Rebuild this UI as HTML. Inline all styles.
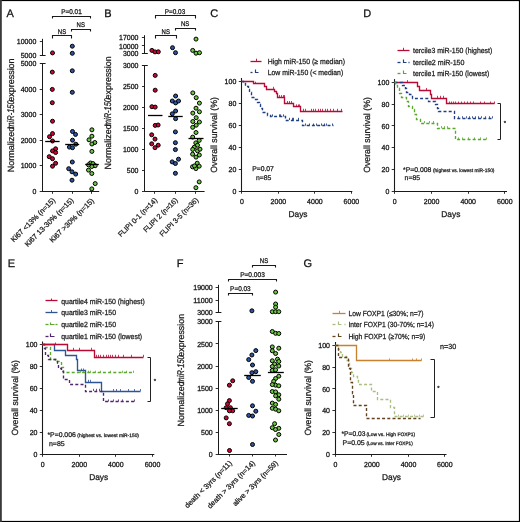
<!DOCTYPE html>
<html><head><meta charset="utf-8"><style>
html,body{margin:0;padding:0;background:#fff;}
svg{display:block;font-family:"Liberation Sans", sans-serif;will-change:transform;text-rendering:geometricPrecision;}
</style></head><body>
<svg width="520" height="522" viewBox="0 0 520 522" font-family='"Liberation Sans", sans-serif'>
<rect x="0" y="0" width="520" height="522" fill="#fff"/>
<text x="6.60" y="16.70" font-size="11" text-anchor="start" fill="#111" stroke="#111" stroke-width="0.26" >A</text>
<line x1="42.50" y1="38.80" x2="42.50" y2="55.40" stroke="#1a1a1a" stroke-width="1.0" />
<line x1="39.80" y1="55.50" x2="45.60" y2="55.50" stroke="#1a1a1a" stroke-width="1.0" />
<line x1="39.80" y1="41.50" x2="42.50" y2="41.50" stroke="#1a1a1a" stroke-width="0.9" />
<text x="36.30" y="44.01" font-size="7.35" text-anchor="end" fill="#111" textLength="19.46" lengthAdjust="spacingAndGlyphs" stroke="#111" stroke-width="0.26" >10000</text>
<text x="36.30" y="57.81" font-size="7.35" text-anchor="end" fill="#111" textLength="15.57" lengthAdjust="spacingAndGlyphs" stroke="#111" stroke-width="0.26" >5000</text>
<line x1="42.50" y1="63.80" x2="42.50" y2="191.20" stroke="#1a1a1a" stroke-width="1.0" />
<line x1="39.80" y1="63.50" x2="45.60" y2="63.50" stroke="#1a1a1a" stroke-width="1.0" />
<text x="36.30" y="66.41" font-size="7.35" text-anchor="end" fill="#111" textLength="15.57" lengthAdjust="spacingAndGlyphs" stroke="#111" stroke-width="0.26" >5000</text>
<line x1="39.70" y1="89.50" x2="42.50" y2="89.50" stroke="#1a1a1a" stroke-width="0.9" />
<text x="36.30" y="91.91" font-size="7.35" text-anchor="end" fill="#111" textLength="15.57" lengthAdjust="spacingAndGlyphs" stroke="#111" stroke-width="0.26" >4000</text>
<line x1="39.70" y1="114.50" x2="42.50" y2="114.50" stroke="#1a1a1a" stroke-width="0.9" />
<text x="36.30" y="117.31" font-size="7.35" text-anchor="end" fill="#111" textLength="15.57" lengthAdjust="spacingAndGlyphs" stroke="#111" stroke-width="0.26" >3000</text>
<line x1="39.70" y1="140.50" x2="42.50" y2="140.50" stroke="#1a1a1a" stroke-width="0.9" />
<text x="36.30" y="142.81" font-size="7.35" text-anchor="end" fill="#111" textLength="15.57" lengthAdjust="spacingAndGlyphs" stroke="#111" stroke-width="0.26" >2000</text>
<line x1="39.70" y1="165.50" x2="42.50" y2="165.50" stroke="#1a1a1a" stroke-width="0.9" />
<text x="36.30" y="168.31" font-size="7.35" text-anchor="end" fill="#111" textLength="15.57" lengthAdjust="spacingAndGlyphs" stroke="#111" stroke-width="0.26" >1000</text>
<line x1="39.70" y1="191.50" x2="42.50" y2="191.50" stroke="#1a1a1a" stroke-width="0.9" />
<text x="36.30" y="193.81" font-size="7.35" text-anchor="end" fill="#111" textLength="3.89" lengthAdjust="spacingAndGlyphs" stroke="#111" stroke-width="0.26" >0</text>
<line x1="42.00" y1="191.50" x2="99.20" y2="191.50" stroke="#1a1a1a" stroke-width="1.0" />
<line x1="52.50" y1="191.20" x2="52.50" y2="193.80" stroke="#1a1a1a" stroke-width="0.9" />
<line x1="72.50" y1="191.20" x2="72.50" y2="193.80" stroke="#1a1a1a" stroke-width="0.9" />
<line x1="91.50" y1="191.20" x2="91.50" y2="193.80" stroke="#1a1a1a" stroke-width="0.9" />
<text x="55.70" y="200.70" font-size="7.35" text-anchor="end" fill="#1a1a1a" stroke="#1a1a1a" stroke-width="0.26" transform="rotate(-45 55.70 200.70)" >Ki67 &lt;13% (n=15)</text>
<text x="74.10" y="200.80" font-size="7.35" text-anchor="end" fill="#1a1a1a" stroke="#1a1a1a" stroke-width="0.26" transform="rotate(-45 74.10 200.80)" >Ki67 13-30% (n=15)</text>
<text x="94.40" y="201.20" font-size="7.35" text-anchor="end" fill="#1a1a1a" stroke="#1a1a1a" stroke-width="0.26" transform="rotate(-45 94.40 201.20)" >Ki67 &gt;30% (n=15)</text>
<polyline points="52.50,18.50 52.50,16.50 90.50,16.50 90.50,18.50" fill="none" stroke="#1a1a1a" stroke-width="1.1" stroke-linejoin="miter" stroke-linecap="butt" />
<text x="71.50" y="14.01" font-size="6.8" text-anchor="middle" fill="#1a1a1a" textLength="20.40" lengthAdjust="spacingAndGlyphs" stroke="#1a1a1a" stroke-width="0.26" >P=0.01</text>
<polyline points="52.50,38.50 52.50,35.50 71.50,35.50 71.50,38.50" fill="none" stroke="#1a1a1a" stroke-width="1.1" stroke-linejoin="miter" stroke-linecap="butt" />
<text x="62.00" y="33.71" font-size="6.8" text-anchor="middle" fill="#1a1a1a" textLength="8.40" lengthAdjust="spacingAndGlyphs" stroke="#1a1a1a" stroke-width="0.26" >NS</text>
<polyline points="71.50,31.50 71.50,29.50 90.50,29.50 90.50,31.50" fill="none" stroke="#1a1a1a" stroke-width="1.1" stroke-linejoin="miter" stroke-linecap="butt" />
<text x="80.80" y="26.91" font-size="6.8" text-anchor="middle" fill="#1a1a1a" textLength="8.40" lengthAdjust="spacingAndGlyphs" stroke="#1a1a1a" stroke-width="0.26" >NS</text>
<circle cx="52.50" cy="52.90" r="2.0" fill="#cc0535" stroke="#000" stroke-width="1.0"/>
<circle cx="52.30" cy="72.10" r="2.0" fill="#cc0535" stroke="#000" stroke-width="1.0"/>
<circle cx="52.30" cy="89.40" r="2.0" fill="#cc0535" stroke="#000" stroke-width="1.0"/>
<circle cx="52.30" cy="102.70" r="2.0" fill="#cc0535" stroke="#000" stroke-width="1.0"/>
<circle cx="52.50" cy="121.20" r="2.0" fill="#cc0535" stroke="#000" stroke-width="1.0"/>
<circle cx="52.50" cy="133.60" r="2.0" fill="#cc0535" stroke="#000" stroke-width="1.0"/>
<circle cx="49.50" cy="136.70" r="2.0" fill="#cc0535" stroke="#000" stroke-width="1.0"/>
<circle cx="52.50" cy="141.00" r="2.0" fill="#cc0535" stroke="#000" stroke-width="1.0"/>
<circle cx="55.60" cy="148.80" r="2.0" fill="#cc0535" stroke="#000" stroke-width="1.0"/>
<circle cx="52.50" cy="150.90" r="2.0" fill="#cc0535" stroke="#000" stroke-width="1.0"/>
<circle cx="55.60" cy="152.50" r="2.0" fill="#cc0535" stroke="#000" stroke-width="1.0"/>
<circle cx="49.20" cy="156.70" r="2.0" fill="#cc0535" stroke="#000" stroke-width="1.0"/>
<circle cx="52.50" cy="158.70" r="2.0" fill="#cc0535" stroke="#000" stroke-width="1.0"/>
<circle cx="55.60" cy="163.30" r="2.0" fill="#cc0535" stroke="#000" stroke-width="1.0"/>
<circle cx="52.50" cy="166.20" r="2.0" fill="#cc0535" stroke="#000" stroke-width="1.0"/>
<circle cx="72.30" cy="46.20" r="2.0" fill="#2d549c" stroke="#000" stroke-width="1.0"/>
<circle cx="72.30" cy="53.30" r="2.0" fill="#2d549c" stroke="#000" stroke-width="1.0"/>
<circle cx="72.30" cy="70.80" r="2.0" fill="#2d549c" stroke="#000" stroke-width="1.0"/>
<circle cx="72.30" cy="92.30" r="2.0" fill="#2d549c" stroke="#000" stroke-width="1.0"/>
<circle cx="72.50" cy="131.50" r="2.0" fill="#2d549c" stroke="#000" stroke-width="1.0"/>
<circle cx="75.50" cy="134.40" r="2.0" fill="#2d549c" stroke="#000" stroke-width="1.0"/>
<circle cx="72.50" cy="140.20" r="2.0" fill="#2d549c" stroke="#000" stroke-width="1.0"/>
<circle cx="75.80" cy="144.20" r="2.0" fill="#2d549c" stroke="#000" stroke-width="1.0"/>
<circle cx="69.40" cy="147.10" r="2.0" fill="#2d549c" stroke="#000" stroke-width="1.0"/>
<circle cx="72.50" cy="147.70" r="2.0" fill="#2d549c" stroke="#000" stroke-width="1.0"/>
<circle cx="72.30" cy="162.00" r="2.0" fill="#2d549c" stroke="#000" stroke-width="1.0"/>
<circle cx="68.70" cy="168.70" r="2.0" fill="#2d549c" stroke="#000" stroke-width="1.0"/>
<circle cx="72.00" cy="171.80" r="2.0" fill="#2d549c" stroke="#000" stroke-width="1.0"/>
<circle cx="75.70" cy="174.10" r="2.0" fill="#2d549c" stroke="#000" stroke-width="1.0"/>
<circle cx="72.00" cy="180.20" r="2.0" fill="#2d549c" stroke="#000" stroke-width="1.0"/>
<circle cx="91.90" cy="129.80" r="2.0" fill="#6cc640" stroke="#000" stroke-width="1.0"/>
<circle cx="91.90" cy="136.20" r="2.0" fill="#6cc640" stroke="#000" stroke-width="1.0"/>
<circle cx="89.00" cy="139.80" r="2.0" fill="#6cc640" stroke="#000" stroke-width="1.0"/>
<circle cx="94.80" cy="142.50" r="2.0" fill="#6cc640" stroke="#000" stroke-width="1.0"/>
<circle cx="91.90" cy="144.00" r="2.0" fill="#6cc640" stroke="#000" stroke-width="1.0"/>
<circle cx="91.90" cy="151.40" r="2.0" fill="#6cc640" stroke="#000" stroke-width="1.0"/>
<circle cx="90.50" cy="163.00" r="2.0" fill="#6cc640" stroke="#000" stroke-width="1.0"/>
<circle cx="93.00" cy="163.60" r="2.0" fill="#6cc640" stroke="#000" stroke-width="1.0"/>
<circle cx="95.20" cy="165.70" r="2.0" fill="#6cc640" stroke="#000" stroke-width="1.0"/>
<circle cx="91.80" cy="166.50" r="2.0" fill="#6cc640" stroke="#000" stroke-width="1.0"/>
<circle cx="88.50" cy="164.80" r="2.0" fill="#6cc640" stroke="#000" stroke-width="1.0"/>
<circle cx="88.50" cy="170.10" r="2.0" fill="#6cc640" stroke="#000" stroke-width="1.0"/>
<circle cx="91.80" cy="173.50" r="2.0" fill="#6cc640" stroke="#000" stroke-width="1.0"/>
<circle cx="95.20" cy="183.60" r="2.0" fill="#6cc640" stroke="#000" stroke-width="1.0"/>
<circle cx="91.80" cy="188.90" r="2.0" fill="#6cc640" stroke="#000" stroke-width="1.0"/>
<line x1="45.20" y1="141.50" x2="59.60" y2="141.50" stroke="#000" stroke-width="1.3" />
<line x1="65.20" y1="144.50" x2="79.20" y2="144.50" stroke="#000" stroke-width="1.3" />
<line x1="85.20" y1="164.50" x2="98.80" y2="164.50" stroke="#000" stroke-width="1.3" />
<text x="104.20" y="16.90" font-size="11" text-anchor="start" fill="#111" stroke="#111" stroke-width="0.26" >B</text>
<line x1="144.50" y1="35.20" x2="144.50" y2="53.50" stroke="#1a1a1a" stroke-width="1.0" />
<line x1="141.90" y1="53.50" x2="147.80" y2="53.50" stroke="#1a1a1a" stroke-width="1.0" />
<line x1="141.90" y1="37.50" x2="144.80" y2="37.50" stroke="#1a1a1a" stroke-width="0.9" />
<text x="138.50" y="40.31" font-size="7.35" text-anchor="end" fill="#111" textLength="19.46" lengthAdjust="spacingAndGlyphs" stroke="#111" stroke-width="0.26" >17000</text>
<line x1="141.90" y1="45.50" x2="144.80" y2="45.50" stroke="#1a1a1a" stroke-width="0.9" />
<text x="138.50" y="48.51" font-size="7.35" text-anchor="end" fill="#111" textLength="19.46" lengthAdjust="spacingAndGlyphs" stroke="#111" stroke-width="0.26" >10000</text>
<text x="138.50" y="56.11" font-size="7.35" text-anchor="end" fill="#111" textLength="15.57" lengthAdjust="spacingAndGlyphs" stroke="#111" stroke-width="0.26" >3000</text>
<line x1="144.50" y1="65.50" x2="144.50" y2="191.20" stroke="#1a1a1a" stroke-width="1.0" />
<line x1="141.90" y1="65.50" x2="147.80" y2="65.50" stroke="#1a1a1a" stroke-width="1.0" />
<text x="138.50" y="68.11" font-size="7.35" text-anchor="end" fill="#111" textLength="15.57" lengthAdjust="spacingAndGlyphs" stroke="#111" stroke-width="0.26" >3000</text>
<line x1="142.00" y1="86.50" x2="144.80" y2="86.50" stroke="#1a1a1a" stroke-width="0.9" />
<text x="138.50" y="88.91" font-size="7.35" text-anchor="end" fill="#111" textLength="15.57" lengthAdjust="spacingAndGlyphs" stroke="#111" stroke-width="0.26" >2500</text>
<line x1="142.00" y1="107.50" x2="144.80" y2="107.50" stroke="#1a1a1a" stroke-width="0.9" />
<text x="138.50" y="109.91" font-size="7.35" text-anchor="end" fill="#111" textLength="15.57" lengthAdjust="spacingAndGlyphs" stroke="#111" stroke-width="0.26" >2000</text>
<line x1="142.00" y1="128.50" x2="144.80" y2="128.50" stroke="#1a1a1a" stroke-width="0.9" />
<text x="138.50" y="130.91" font-size="7.35" text-anchor="end" fill="#111" textLength="15.57" lengthAdjust="spacingAndGlyphs" stroke="#111" stroke-width="0.26" >1500</text>
<line x1="142.00" y1="149.50" x2="144.80" y2="149.50" stroke="#1a1a1a" stroke-width="0.9" />
<text x="138.50" y="152.01" font-size="7.35" text-anchor="end" fill="#111" textLength="15.57" lengthAdjust="spacingAndGlyphs" stroke="#111" stroke-width="0.26" >1000</text>
<line x1="142.00" y1="170.50" x2="144.80" y2="170.50" stroke="#1a1a1a" stroke-width="0.9" />
<text x="138.50" y="173.01" font-size="7.35" text-anchor="end" fill="#111" textLength="11.68" lengthAdjust="spacingAndGlyphs" stroke="#111" stroke-width="0.26" >500</text>
<line x1="142.00" y1="191.50" x2="144.80" y2="191.50" stroke="#1a1a1a" stroke-width="0.9" />
<text x="138.50" y="193.81" font-size="7.35" text-anchor="end" fill="#111" textLength="3.89" lengthAdjust="spacingAndGlyphs" stroke="#111" stroke-width="0.26" >0</text>
<line x1="144.30" y1="191.50" x2="204.60" y2="191.50" stroke="#1a1a1a" stroke-width="1.0" />
<line x1="154.50" y1="191.20" x2="154.50" y2="193.80" stroke="#1a1a1a" stroke-width="0.9" />
<line x1="175.50" y1="191.20" x2="175.50" y2="193.80" stroke="#1a1a1a" stroke-width="0.9" />
<line x1="195.50" y1="191.20" x2="195.50" y2="193.80" stroke="#1a1a1a" stroke-width="0.9" />
<text x="157.70" y="200.70" font-size="7.35" text-anchor="end" fill="#1a1a1a" textLength="51.80" lengthAdjust="spacingAndGlyphs" stroke="#1a1a1a" stroke-width="0.26" transform="rotate(-45 157.70 200.70)" >FLIPI 0-1 (n=14)</text>
<text x="178.30" y="200.70" font-size="7.35" text-anchor="end" fill="#1a1a1a" textLength="45.40" lengthAdjust="spacingAndGlyphs" stroke="#1a1a1a" stroke-width="0.26" transform="rotate(-45 178.30 200.70)" >FLIPI 2 (n=16)</text>
<text x="198.80" y="200.70" font-size="7.35" text-anchor="end" fill="#1a1a1a" textLength="51.30" lengthAdjust="spacingAndGlyphs" stroke="#1a1a1a" stroke-width="0.26" transform="rotate(-45 198.80 200.70)" >FLIPI 3-5 (n=36)</text>
<polyline points="155.50,18.50 155.50,15.50 195.50,15.50 195.50,18.50" fill="none" stroke="#1a1a1a" stroke-width="1.1" stroke-linejoin="miter" stroke-linecap="butt" />
<text x="175.00" y="14.01" font-size="6.8" text-anchor="middle" fill="#1a1a1a" textLength="20.60" lengthAdjust="spacingAndGlyphs" stroke="#1a1a1a" stroke-width="0.26" >P=0.03</text>
<polyline points="155.50,38.50 155.50,35.50 176.50,35.50 176.50,38.50" fill="none" stroke="#1a1a1a" stroke-width="1.1" stroke-linejoin="miter" stroke-linecap="butt" />
<text x="165.80" y="33.71" font-size="6.8" text-anchor="middle" fill="#1a1a1a" textLength="8.40" lengthAdjust="spacingAndGlyphs" stroke="#1a1a1a" stroke-width="0.26" >NS</text>
<polyline points="175.50,30.50 175.50,28.50 195.50,28.50 195.50,30.50" fill="none" stroke="#1a1a1a" stroke-width="1.1" stroke-linejoin="miter" stroke-linecap="butt" />
<text x="185.20" y="26.21" font-size="6.8" text-anchor="middle" fill="#1a1a1a" textLength="8.40" lengthAdjust="spacingAndGlyphs" stroke="#1a1a1a" stroke-width="0.26" >NS</text>
<circle cx="151.90" cy="50.40" r="2.0" fill="#cc0535" stroke="#000" stroke-width="1.0"/>
<circle cx="155.00" cy="51.90" r="2.0" fill="#cc0535" stroke="#000" stroke-width="1.0"/>
<circle cx="158.30" cy="51.80" r="2.0" fill="#cc0535" stroke="#000" stroke-width="1.0"/>
<circle cx="155.20" cy="75.40" r="2.0" fill="#cc0535" stroke="#000" stroke-width="1.0"/>
<circle cx="155.20" cy="90.20" r="2.0" fill="#cc0535" stroke="#000" stroke-width="1.0"/>
<circle cx="151.90" cy="106.70" r="2.0" fill="#cc0535" stroke="#000" stroke-width="1.0"/>
<circle cx="155.20" cy="107.10" r="2.0" fill="#cc0535" stroke="#000" stroke-width="1.0"/>
<circle cx="155.20" cy="125.40" r="2.0" fill="#cc0535" stroke="#000" stroke-width="1.0"/>
<circle cx="158.10" cy="125.00" r="2.0" fill="#cc0535" stroke="#000" stroke-width="1.0"/>
<circle cx="151.70" cy="134.80" r="2.0" fill="#cc0535" stroke="#000" stroke-width="1.0"/>
<circle cx="155.00" cy="139.10" r="2.0" fill="#cc0535" stroke="#000" stroke-width="1.0"/>
<circle cx="151.70" cy="143.80" r="2.0" fill="#cc0535" stroke="#000" stroke-width="1.0"/>
<circle cx="158.20" cy="145.20" r="2.0" fill="#cc0535" stroke="#000" stroke-width="1.0"/>
<circle cx="155.00" cy="147.70" r="2.0" fill="#cc0535" stroke="#000" stroke-width="1.0"/>
<circle cx="172.50" cy="47.70" r="2.0" fill="#2d549c" stroke="#000" stroke-width="1.0"/>
<circle cx="175.50" cy="52.70" r="2.0" fill="#2d549c" stroke="#000" stroke-width="1.0"/>
<circle cx="175.60" cy="96.00" r="2.0" fill="#2d549c" stroke="#000" stroke-width="1.0"/>
<circle cx="172.30" cy="101.00" r="2.0" fill="#2d549c" stroke="#000" stroke-width="1.0"/>
<circle cx="175.60" cy="102.90" r="2.0" fill="#2d549c" stroke="#000" stroke-width="1.0"/>
<circle cx="178.50" cy="101.00" r="2.0" fill="#2d549c" stroke="#000" stroke-width="1.0"/>
<circle cx="175.60" cy="111.00" r="2.0" fill="#2d549c" stroke="#000" stroke-width="1.0"/>
<circle cx="172.30" cy="113.80" r="2.0" fill="#2d549c" stroke="#000" stroke-width="1.0"/>
<circle cx="175.60" cy="118.70" r="2.0" fill="#2d549c" stroke="#000" stroke-width="1.0"/>
<circle cx="175.40" cy="131.90" r="2.0" fill="#2d549c" stroke="#000" stroke-width="1.0"/>
<circle cx="175.40" cy="142.70" r="2.0" fill="#2d549c" stroke="#000" stroke-width="1.0"/>
<circle cx="175.40" cy="149.60" r="2.0" fill="#2d549c" stroke="#000" stroke-width="1.0"/>
<circle cx="178.50" cy="159.20" r="2.0" fill="#2d549c" stroke="#000" stroke-width="1.0"/>
<circle cx="172.20" cy="161.90" r="2.0" fill="#2d549c" stroke="#000" stroke-width="1.0"/>
<circle cx="175.40" cy="163.50" r="2.0" fill="#2d549c" stroke="#000" stroke-width="1.0"/>
<circle cx="175.40" cy="173.30" r="2.0" fill="#2d549c" stroke="#000" stroke-width="1.0"/>
<circle cx="196.00" cy="39.10" r="2.0" fill="#6cc640" stroke="#000" stroke-width="1.0"/>
<circle cx="192.70" cy="50.40" r="2.0" fill="#6cc640" stroke="#000" stroke-width="1.0"/>
<circle cx="196.00" cy="53.20" r="2.0" fill="#6cc640" stroke="#000" stroke-width="1.0"/>
<circle cx="199.50" cy="52.70" r="2.0" fill="#6cc640" stroke="#000" stroke-width="1.0"/>
<circle cx="192.80" cy="92.90" r="2.0" fill="#6cc640" stroke="#000" stroke-width="1.0"/>
<circle cx="196.20" cy="97.70" r="2.0" fill="#6cc640" stroke="#000" stroke-width="1.0"/>
<circle cx="199.40" cy="103.10" r="2.0" fill="#6cc640" stroke="#000" stroke-width="1.0"/>
<circle cx="196.00" cy="108.20" r="2.0" fill="#6cc640" stroke="#000" stroke-width="1.0"/>
<circle cx="199.40" cy="111.80" r="2.0" fill="#6cc640" stroke="#000" stroke-width="1.0"/>
<circle cx="192.80" cy="113.10" r="2.0" fill="#6cc640" stroke="#000" stroke-width="1.0"/>
<circle cx="196.20" cy="117.70" r="2.0" fill="#6cc640" stroke="#000" stroke-width="1.0"/>
<circle cx="192.80" cy="121.50" r="2.0" fill="#6cc640" stroke="#000" stroke-width="1.0"/>
<circle cx="199.40" cy="122.00" r="2.0" fill="#6cc640" stroke="#000" stroke-width="1.0"/>
<circle cx="196.20" cy="125.20" r="2.0" fill="#6cc640" stroke="#000" stroke-width="1.0"/>
<circle cx="192.70" cy="127.30" r="2.0" fill="#6cc640" stroke="#000" stroke-width="1.0"/>
<circle cx="196.00" cy="132.50" r="2.0" fill="#6cc640" stroke="#000" stroke-width="1.0"/>
<circle cx="192.70" cy="137.10" r="2.0" fill="#6cc640" stroke="#000" stroke-width="1.0"/>
<circle cx="199.20" cy="140.40" r="2.0" fill="#6cc640" stroke="#000" stroke-width="1.0"/>
<circle cx="195.80" cy="142.90" r="2.0" fill="#6cc640" stroke="#000" stroke-width="1.0"/>
<circle cx="197.50" cy="145.20" r="2.0" fill="#6cc640" stroke="#000" stroke-width="1.0"/>
<circle cx="194.20" cy="147.30" r="2.0" fill="#6cc640" stroke="#000" stroke-width="1.0"/>
<circle cx="192.70" cy="149.40" r="2.0" fill="#6cc640" stroke="#000" stroke-width="1.0"/>
<circle cx="197.50" cy="150.80" r="2.0" fill="#6cc640" stroke="#000" stroke-width="1.0"/>
<circle cx="200.00" cy="149.20" r="2.0" fill="#6cc640" stroke="#000" stroke-width="1.0"/>
<circle cx="192.60" cy="154.20" r="2.0" fill="#6cc640" stroke="#000" stroke-width="1.0"/>
<circle cx="199.30" cy="155.00" r="2.0" fill="#6cc640" stroke="#000" stroke-width="1.0"/>
<circle cx="196.00" cy="157.10" r="2.0" fill="#6cc640" stroke="#000" stroke-width="1.0"/>
<circle cx="197.20" cy="163.20" r="2.0" fill="#6cc640" stroke="#000" stroke-width="1.0"/>
<circle cx="192.50" cy="166.80" r="2.0" fill="#6cc640" stroke="#000" stroke-width="1.0"/>
<circle cx="199.20" cy="166.20" r="2.0" fill="#6cc640" stroke="#000" stroke-width="1.0"/>
<circle cx="195.90" cy="168.60" r="2.0" fill="#6cc640" stroke="#000" stroke-width="1.0"/>
<circle cx="194.50" cy="165.90" r="2.0" fill="#6cc640" stroke="#000" stroke-width="1.0"/>
<circle cx="199.20" cy="181.90" r="2.0" fill="#6cc640" stroke="#000" stroke-width="1.0"/>
<circle cx="195.90" cy="187.70" r="2.0" fill="#6cc640" stroke="#000" stroke-width="1.0"/>
<line x1="148.00" y1="115.50" x2="162.50" y2="115.50" stroke="#000" stroke-width="1.3" />
<line x1="168.30" y1="116.50" x2="182.70" y2="116.50" stroke="#000" stroke-width="1.3" />
<line x1="188.50" y1="138.50" x2="203.50" y2="138.50" stroke="#000" stroke-width="1.3" />
<text x="14.20" y="172.20" font-size="9" text-anchor="start" fill="#1a1a1a" textLength="45.50" lengthAdjust="spacingAndGlyphs" stroke="#1a1a1a" stroke-width="0.26" transform="rotate(-90 14.20 172.20)" >Normalized</text>
<text x="14.20" y="128.70" font-size="9.7" text-anchor="start" fill="#1a1a1a" textLength="28.40" lengthAdjust="spacingAndGlyphs" font-style="italic" stroke="#1a1a1a" stroke-width="0.26" transform="rotate(-90 14.20 128.70)" >miR-150</text>
<text x="14.20" y="101.70" font-size="9" text-anchor="start" fill="#1a1a1a" textLength="43.30" lengthAdjust="spacingAndGlyphs" stroke="#1a1a1a" stroke-width="0.26" transform="rotate(-90 14.20 101.70)" >expression</text>
<text x="110.90" y="169.50" font-size="9" text-anchor="start" fill="#1a1a1a" textLength="45.26" lengthAdjust="spacingAndGlyphs" stroke="#1a1a1a" stroke-width="0.26" transform="rotate(-90 110.90 169.50)" >Normalized</text>
<text x="110.90" y="126.23" font-size="9.7" text-anchor="start" fill="#1a1a1a" textLength="28.25" lengthAdjust="spacingAndGlyphs" font-style="italic" stroke="#1a1a1a" stroke-width="0.26" transform="rotate(-90 110.90 126.23)" >miR-150</text>
<text x="110.90" y="99.37" font-size="9" text-anchor="start" fill="#1a1a1a" textLength="43.07" lengthAdjust="spacingAndGlyphs" stroke="#1a1a1a" stroke-width="0.26" transform="rotate(-90 110.90 99.37)" >expression</text>
<text x="184.10" y="426.40" font-size="9" text-anchor="start" fill="#1a1a1a" textLength="44.98" lengthAdjust="spacingAndGlyphs" stroke="#1a1a1a" stroke-width="0.26" transform="rotate(-90 184.10 426.40)" >Normalized</text>
<text x="184.10" y="383.40" font-size="9.7" text-anchor="start" fill="#1a1a1a" textLength="28.08" lengthAdjust="spacingAndGlyphs" font-style="italic" stroke="#1a1a1a" stroke-width="0.26" transform="rotate(-90 184.10 383.40)" >miR-150</text>
<text x="184.10" y="356.71" font-size="9" text-anchor="start" fill="#1a1a1a" textLength="42.81" lengthAdjust="spacingAndGlyphs" stroke="#1a1a1a" stroke-width="0.26" transform="rotate(-90 184.10 356.71)" >expression</text>
<text x="210.30" y="16.90" font-size="11" text-anchor="start" fill="#111" stroke="#111" stroke-width="0.26" >C</text>
<polyline points="250.50,61.50 261.50,61.50" fill="none" stroke="#b80a35" stroke-width="1.3" stroke-linejoin="miter" stroke-linecap="butt" />
<line x1="256.50" y1="58.70" x2="256.50" y2="61.10" stroke="#b80a35" stroke-width="0.9" />
<text x="267.70" y="63.74" font-size="7.45" text-anchor="start" fill="#222" textLength="77.30" lengthAdjust="spacingAndGlyphs" stroke="#222" stroke-width="0.26" >High miR-150 (≥ median)</text>
<polyline points="250.50,72.50 252.50,72.50" fill="none" stroke="#213f80" stroke-width="1.3" stroke-linejoin="miter" stroke-linecap="butt" />
<polyline points="255.50,69.50 255.50,72.50 258.50,72.50" fill="none" stroke="#213f80" stroke-width="1.1700000000000002" stroke-linejoin="miter" stroke-linecap="butt" />
<text x="267.70" y="75.24" font-size="7.45" text-anchor="start" fill="#222" textLength="75.50" lengthAdjust="spacingAndGlyphs" stroke="#222" stroke-width="0.26" >Low miR-150 (&lt; median)</text>
<line x1="241.50" y1="78.00" x2="241.50" y2="191.40" stroke="#1a1a1a" stroke-width="1.1" />
<line x1="238.80" y1="81.50" x2="241.80" y2="81.50" stroke="#1a1a1a" stroke-width="0.9" />
<text x="236.30" y="83.81" font-size="7.35" text-anchor="end" fill="#111" textLength="11.68" lengthAdjust="spacingAndGlyphs" stroke="#111" stroke-width="0.26" >100</text>
<line x1="238.80" y1="103.50" x2="241.80" y2="103.50" stroke="#1a1a1a" stroke-width="0.9" />
<text x="236.30" y="105.85" font-size="7.35" text-anchor="end" fill="#111" textLength="7.78" lengthAdjust="spacingAndGlyphs" stroke="#111" stroke-width="0.26" >80</text>
<line x1="238.80" y1="125.50" x2="241.80" y2="125.50" stroke="#1a1a1a" stroke-width="0.9" />
<text x="236.30" y="127.89" font-size="7.35" text-anchor="end" fill="#111" textLength="7.78" lengthAdjust="spacingAndGlyphs" stroke="#111" stroke-width="0.26" >60</text>
<line x1="238.80" y1="147.50" x2="241.80" y2="147.50" stroke="#1a1a1a" stroke-width="0.9" />
<text x="236.30" y="149.93" font-size="7.35" text-anchor="end" fill="#111" textLength="7.78" lengthAdjust="spacingAndGlyphs" stroke="#111" stroke-width="0.26" >40</text>
<line x1="238.80" y1="169.50" x2="241.80" y2="169.50" stroke="#1a1a1a" stroke-width="0.9" />
<text x="236.30" y="171.97" font-size="7.35" text-anchor="end" fill="#111" textLength="7.78" lengthAdjust="spacingAndGlyphs" stroke="#111" stroke-width="0.26" >20</text>
<line x1="238.80" y1="191.50" x2="241.80" y2="191.50" stroke="#1a1a1a" stroke-width="0.9" />
<text x="236.30" y="194.01" font-size="7.35" text-anchor="end" fill="#111" textLength="3.89" lengthAdjust="spacingAndGlyphs" stroke="#111" stroke-width="0.26" >0</text>
<line x1="241.30" y1="191.50" x2="352.30" y2="191.50" stroke="#1a1a1a" stroke-width="1.1" />
<line x1="241.50" y1="191.40" x2="241.50" y2="193.70" stroke="#1a1a1a" stroke-width="0.9" />
<text x="241.90" y="203.91" font-size="7.35" text-anchor="middle" fill="#111" textLength="3.89" lengthAdjust="spacingAndGlyphs" stroke="#111" stroke-width="0.26" >0</text>
<line x1="278.50" y1="191.40" x2="278.50" y2="193.70" stroke="#1a1a1a" stroke-width="0.9" />
<text x="278.40" y="203.91" font-size="7.35" text-anchor="middle" fill="#111" textLength="15.57" lengthAdjust="spacingAndGlyphs" stroke="#111" stroke-width="0.26" >2000</text>
<line x1="314.50" y1="191.40" x2="314.50" y2="193.70" stroke="#1a1a1a" stroke-width="0.9" />
<text x="314.90" y="203.91" font-size="7.35" text-anchor="middle" fill="#111" textLength="15.57" lengthAdjust="spacingAndGlyphs" stroke="#111" stroke-width="0.26" >4000</text>
<line x1="351.50" y1="191.40" x2="351.50" y2="193.70" stroke="#1a1a1a" stroke-width="0.9" />
<text x="351.40" y="203.91" font-size="7.35" text-anchor="middle" fill="#111" textLength="15.57" lengthAdjust="spacingAndGlyphs" stroke="#111" stroke-width="0.26" >6000</text>
<text x="298.00" y="216.90" font-size="8.4" text-anchor="middle" fill="#1a1a1a" stroke="#1a1a1a" stroke-width="0.26" >Days</text>
<text x="217.30" y="134.90" font-size="9" text-anchor="middle" fill="#1a1a1a" textLength="75.60" lengthAdjust="spacingAndGlyphs" stroke="#1a1a1a" stroke-width="0.26" transform="rotate(-90 217.30 134.90)" >Overall survival (%)</text>
<polyline points="241.50,81.50 253.50,81.50 253.50,83.50 264.50,83.50 264.50,86.50 266.50,86.50 266.50,89.50 274.50,89.50 274.50,91.50 276.50,91.50 276.50,93.50 277.50,93.50 277.50,97.50 284.50,97.50 284.50,103.50 293.50,103.50 293.50,106.50 300.50,106.50 300.50,111.50 342.50,111.50" fill="none" stroke="#b80a35" stroke-width="1.35" stroke-linejoin="miter" stroke-linecap="butt" />
<line x1="255.50" y1="81.70" x2="255.50" y2="83.90" stroke="#b80a35" stroke-width="0.8" />
<line x1="273.50" y1="86.80" x2="273.50" y2="89.00" stroke="#b80a35" stroke-width="0.8" />
<line x1="279.50" y1="95.10" x2="279.50" y2="97.30" stroke="#b80a35" stroke-width="0.8" />
<line x1="281.50" y1="95.10" x2="281.50" y2="97.30" stroke="#b80a35" stroke-width="0.8" />
<line x1="283.50" y1="95.10" x2="283.50" y2="97.30" stroke="#b80a35" stroke-width="0.8" />
<line x1="284.50" y1="95.10" x2="284.50" y2="97.30" stroke="#b80a35" stroke-width="0.8" />
<line x1="287.50" y1="101.00" x2="287.50" y2="103.20" stroke="#b80a35" stroke-width="0.8" />
<line x1="289.50" y1="101.00" x2="289.50" y2="103.20" stroke="#b80a35" stroke-width="0.8" />
<line x1="291.50" y1="101.00" x2="291.50" y2="103.20" stroke="#b80a35" stroke-width="0.8" />
<line x1="296.50" y1="104.40" x2="296.50" y2="106.60" stroke="#b80a35" stroke-width="0.8" />
<line x1="298.50" y1="104.40" x2="298.50" y2="106.60" stroke="#b80a35" stroke-width="0.8" />
<line x1="299.50" y1="104.40" x2="299.50" y2="106.60" stroke="#b80a35" stroke-width="0.8" />
<line x1="303.50" y1="108.80" x2="303.50" y2="111.00" stroke="#b80a35" stroke-width="0.8" />
<line x1="305.50" y1="108.80" x2="305.50" y2="111.00" stroke="#b80a35" stroke-width="0.8" />
<line x1="311.50" y1="108.80" x2="311.50" y2="111.00" stroke="#b80a35" stroke-width="0.8" />
<line x1="313.50" y1="108.80" x2="313.50" y2="111.00" stroke="#b80a35" stroke-width="0.8" />
<line x1="315.50" y1="108.80" x2="315.50" y2="111.00" stroke="#b80a35" stroke-width="0.8" />
<line x1="318.50" y1="108.80" x2="318.50" y2="111.00" stroke="#b80a35" stroke-width="0.8" />
<line x1="320.50" y1="108.80" x2="320.50" y2="111.00" stroke="#b80a35" stroke-width="0.8" />
<line x1="322.50" y1="108.80" x2="322.50" y2="111.00" stroke="#b80a35" stroke-width="0.8" />
<line x1="325.50" y1="108.80" x2="325.50" y2="111.00" stroke="#b80a35" stroke-width="0.8" />
<line x1="327.50" y1="108.80" x2="327.50" y2="111.00" stroke="#b80a35" stroke-width="0.8" />
<line x1="330.50" y1="108.80" x2="330.50" y2="111.00" stroke="#b80a35" stroke-width="0.8" />
<line x1="333.50" y1="108.80" x2="333.50" y2="111.00" stroke="#b80a35" stroke-width="0.8" />
<line x1="337.50" y1="108.80" x2="337.50" y2="111.00" stroke="#b80a35" stroke-width="0.8" />
<line x1="341.50" y1="108.80" x2="341.50" y2="111.00" stroke="#b80a35" stroke-width="0.8" />
<polyline points="241.50,81.50 243.50,81.50 243.50,83.50 245.50,83.50 245.50,86.50 248.50,86.50 248.50,89.50 249.50,89.50 249.50,92.50 251.50,92.50 251.50,97.50 255.50,97.50 255.50,99.50 257.50,99.50 257.50,102.50 259.50,102.50 259.50,104.50 260.50,104.50 260.50,108.50 262.50,108.50 262.50,112.50 267.50,112.50 267.50,115.50 270.50,115.50 270.50,116.50 285.50,116.50 285.50,120.50 302.50,120.50 302.50,125.50 333.50,125.50" fill="none" stroke="#213f80" stroke-width="1.35" stroke-dasharray="3,2.2" stroke-linejoin="miter" stroke-linecap="butt" />
<line x1="272.50" y1="114.40" x2="272.50" y2="116.60" stroke="#213f80" stroke-width="0.9" />
<line x1="279.50" y1="114.40" x2="279.50" y2="116.60" stroke="#213f80" stroke-width="0.9" />
<line x1="280.50" y1="114.40" x2="280.50" y2="116.60" stroke="#213f80" stroke-width="0.9" />
<line x1="283.50" y1="114.40" x2="283.50" y2="116.60" stroke="#213f80" stroke-width="0.9" />
<line x1="289.50" y1="117.80" x2="289.50" y2="120.00" stroke="#213f80" stroke-width="0.9" />
<line x1="292.50" y1="117.80" x2="292.50" y2="120.00" stroke="#213f80" stroke-width="0.9" />
<line x1="293.50" y1="117.80" x2="293.50" y2="120.00" stroke="#213f80" stroke-width="0.9" />
<line x1="298.50" y1="117.80" x2="298.50" y2="120.00" stroke="#213f80" stroke-width="0.9" />
<line x1="305.50" y1="123.50" x2="305.50" y2="125.70" stroke="#213f80" stroke-width="0.9" />
<line x1="309.50" y1="123.50" x2="309.50" y2="125.70" stroke="#213f80" stroke-width="0.9" />
<line x1="313.50" y1="123.50" x2="313.50" y2="125.70" stroke="#213f80" stroke-width="0.9" />
<line x1="316.50" y1="123.50" x2="316.50" y2="125.70" stroke="#213f80" stroke-width="0.9" />
<line x1="321.50" y1="123.50" x2="321.50" y2="125.70" stroke="#213f80" stroke-width="0.9" />
<line x1="324.50" y1="123.50" x2="324.50" y2="125.70" stroke="#213f80" stroke-width="0.9" />
<line x1="326.50" y1="123.50" x2="326.50" y2="125.70" stroke="#213f80" stroke-width="0.9" />
<line x1="332.50" y1="123.50" x2="332.50" y2="125.70" stroke="#213f80" stroke-width="0.9" />
<text x="263.00" y="171.01" font-size="6.8" text-anchor="middle" fill="#222" stroke="#222" stroke-width="0.26" >P=0.07</text>
<text x="263.70" y="179.91" font-size="6.8" text-anchor="middle" fill="#222" stroke="#222" stroke-width="0.26" >n=85</text>
<text x="363.20" y="16.90" font-size="11" text-anchor="start" fill="#111" stroke="#111" stroke-width="0.26" >D</text>
<polyline points="397.50,50.50 409.50,50.50" fill="none" stroke="#b80a35" stroke-width="1.3" stroke-linejoin="miter" stroke-linecap="butt" />
<line x1="403.50" y1="47.80" x2="403.50" y2="50.20" stroke="#b80a35" stroke-width="0.9" />
<text x="413.00" y="52.94" font-size="7.45" text-anchor="start" fill="#222" textLength="79.30" lengthAdjust="spacingAndGlyphs" stroke="#222" stroke-width="0.26" >tercile3 miR-150 (highest)</text>
<polyline points="397.50,62.50 400.50,62.50" fill="none" stroke="#213f80" stroke-width="1.3" stroke-linejoin="miter" stroke-linecap="butt" />
<polyline points="403.50,59.50 403.50,62.50 406.50,62.50" fill="none" stroke="#213f80" stroke-width="1.1700000000000002" stroke-linejoin="miter" stroke-linecap="butt" />
<polyline points="408.50,62.50 409.50,62.50" fill="none" stroke="#213f80" stroke-width="1.3" stroke-linejoin="miter" stroke-linecap="butt" />
<text x="413.00" y="64.64" font-size="7.45" text-anchor="start" fill="#222" textLength="51.50" lengthAdjust="spacingAndGlyphs" stroke="#222" stroke-width="0.26" >tercile2 miR-150</text>
<polyline points="397.50,73.50 400.50,73.50" fill="none" stroke="#5aa82e" stroke-width="1.3" stroke-linejoin="miter" stroke-linecap="butt" />
<polyline points="403.50,70.50 403.50,73.50 406.50,73.50" fill="none" stroke="#5aa82e" stroke-width="1.1700000000000002" stroke-linejoin="miter" stroke-linecap="butt" />
<text x="413.00" y="76.24" font-size="7.45" text-anchor="start" fill="#222" textLength="76.20" lengthAdjust="spacingAndGlyphs" stroke="#222" stroke-width="0.26" >tercile1 miR-150 (lowest)</text>
<line x1="394.50" y1="79.10" x2="394.50" y2="191.50" stroke="#1a1a1a" stroke-width="1.1" />
<line x1="391.70" y1="82.50" x2="394.70" y2="82.50" stroke="#1a1a1a" stroke-width="0.9" />
<text x="389.30" y="84.91" font-size="7.35" text-anchor="end" fill="#111" textLength="11.68" lengthAdjust="spacingAndGlyphs" stroke="#111" stroke-width="0.26" >100</text>
<line x1="391.70" y1="104.50" x2="394.70" y2="104.50" stroke="#1a1a1a" stroke-width="0.9" />
<text x="389.30" y="106.75" font-size="7.35" text-anchor="end" fill="#111" textLength="7.78" lengthAdjust="spacingAndGlyphs" stroke="#111" stroke-width="0.26" >80</text>
<line x1="391.70" y1="125.50" x2="394.70" y2="125.50" stroke="#1a1a1a" stroke-width="0.9" />
<text x="389.30" y="128.59" font-size="7.35" text-anchor="end" fill="#111" textLength="7.78" lengthAdjust="spacingAndGlyphs" stroke="#111" stroke-width="0.26" >60</text>
<line x1="391.70" y1="147.50" x2="394.70" y2="147.50" stroke="#1a1a1a" stroke-width="0.9" />
<text x="389.30" y="150.43" font-size="7.35" text-anchor="end" fill="#111" textLength="7.78" lengthAdjust="spacingAndGlyphs" stroke="#111" stroke-width="0.26" >40</text>
<line x1="391.70" y1="169.50" x2="394.70" y2="169.50" stroke="#1a1a1a" stroke-width="0.9" />
<text x="389.30" y="172.27" font-size="7.35" text-anchor="end" fill="#111" textLength="7.78" lengthAdjust="spacingAndGlyphs" stroke="#111" stroke-width="0.26" >20</text>
<line x1="391.70" y1="191.50" x2="394.70" y2="191.50" stroke="#1a1a1a" stroke-width="0.9" />
<text x="389.30" y="194.11" font-size="7.35" text-anchor="end" fill="#111" textLength="3.89" lengthAdjust="spacingAndGlyphs" stroke="#111" stroke-width="0.26" >0</text>
<line x1="394.20" y1="191.50" x2="507.00" y2="191.50" stroke="#1a1a1a" stroke-width="1.1" />
<line x1="394.50" y1="191.50" x2="394.50" y2="193.80" stroke="#1a1a1a" stroke-width="0.9" />
<text x="394.70" y="204.01" font-size="7.35" text-anchor="middle" fill="#111" textLength="3.89" lengthAdjust="spacingAndGlyphs" stroke="#111" stroke-width="0.26" >0</text>
<line x1="431.50" y1="191.50" x2="431.50" y2="193.80" stroke="#1a1a1a" stroke-width="0.9" />
<text x="431.60" y="204.01" font-size="7.35" text-anchor="middle" fill="#111" textLength="15.57" lengthAdjust="spacingAndGlyphs" stroke="#111" stroke-width="0.26" >2000</text>
<line x1="468.50" y1="191.50" x2="468.50" y2="193.80" stroke="#1a1a1a" stroke-width="0.9" />
<text x="468.20" y="204.01" font-size="7.35" text-anchor="middle" fill="#111" textLength="15.57" lengthAdjust="spacingAndGlyphs" stroke="#111" stroke-width="0.26" >4000</text>
<line x1="504.50" y1="191.50" x2="504.50" y2="193.80" stroke="#1a1a1a" stroke-width="0.9" />
<text x="504.80" y="204.01" font-size="7.35" text-anchor="middle" fill="#111" textLength="15.57" lengthAdjust="spacingAndGlyphs" stroke="#111" stroke-width="0.26" >6000</text>
<text x="450.80" y="216.90" font-size="8.4" text-anchor="middle" fill="#1a1a1a" stroke="#1a1a1a" stroke-width="0.26" >Days</text>
<text x="370.20" y="135.00" font-size="9" text-anchor="middle" fill="#1a1a1a" textLength="75.60" lengthAdjust="spacingAndGlyphs" stroke="#1a1a1a" stroke-width="0.26" transform="rotate(-90 370.20 135.00)" >Overall survival (%)</text>
<polyline points="394.50,82.50 417.50,82.50 417.50,86.50 419.50,86.50 419.50,90.50 430.50,90.50 430.50,94.50 431.50,94.50 431.50,98.50 446.50,98.50 446.50,103.50 494.50,103.50" fill="none" stroke="#b80a35" stroke-width="1.35" stroke-linejoin="miter" stroke-linecap="butt" />
<line x1="426.50" y1="88.00" x2="426.50" y2="90.20" stroke="#b80a35" stroke-width="0.8" />
<line x1="407.50" y1="80.10" x2="407.50" y2="82.30" stroke="#b80a35" stroke-width="0.8" />
<line x1="437.50" y1="95.80" x2="437.50" y2="98.00" stroke="#b80a35" stroke-width="0.8" />
<line x1="440.50" y1="95.80" x2="440.50" y2="98.00" stroke="#b80a35" stroke-width="0.8" />
<line x1="443.50" y1="95.80" x2="443.50" y2="98.00" stroke="#b80a35" stroke-width="0.8" />
<line x1="449.50" y1="101.50" x2="449.50" y2="103.70" stroke="#b80a35" stroke-width="0.8" />
<line x1="451.50" y1="101.50" x2="451.50" y2="103.70" stroke="#b80a35" stroke-width="0.8" />
<line x1="453.50" y1="101.50" x2="453.50" y2="103.70" stroke="#b80a35" stroke-width="0.8" />
<line x1="455.50" y1="101.50" x2="455.50" y2="103.70" stroke="#b80a35" stroke-width="0.8" />
<line x1="458.50" y1="101.50" x2="458.50" y2="103.70" stroke="#b80a35" stroke-width="0.8" />
<line x1="461.50" y1="101.50" x2="461.50" y2="103.70" stroke="#b80a35" stroke-width="0.8" />
<line x1="464.50" y1="101.50" x2="464.50" y2="103.70" stroke="#b80a35" stroke-width="0.8" />
<line x1="467.50" y1="101.50" x2="467.50" y2="103.70" stroke="#b80a35" stroke-width="0.8" />
<line x1="470.50" y1="101.50" x2="470.50" y2="103.70" stroke="#b80a35" stroke-width="0.8" />
<line x1="473.50" y1="101.50" x2="473.50" y2="103.70" stroke="#b80a35" stroke-width="0.8" />
<line x1="480.50" y1="101.50" x2="480.50" y2="103.70" stroke="#b80a35" stroke-width="0.8" />
<line x1="484.50" y1="101.50" x2="484.50" y2="103.70" stroke="#b80a35" stroke-width="0.8" />
<line x1="490.50" y1="101.50" x2="490.50" y2="103.70" stroke="#b80a35" stroke-width="0.8" />
<line x1="494.50" y1="101.50" x2="494.50" y2="103.70" stroke="#b80a35" stroke-width="0.8" />
<polyline points="394.50,82.50 402.50,82.50 402.50,85.50 405.50,85.50 405.50,88.50 406.50,88.50 406.50,92.50 409.50,92.50 409.50,94.50 412.50,94.50 412.50,98.50 428.50,98.50 428.50,101.50 435.50,101.50 435.50,104.50 437.50,104.50 437.50,108.50 438.50,108.50 438.50,111.50 454.50,111.50 454.50,118.50 492.50,118.50" fill="none" stroke="#213f80" stroke-width="1.35" stroke-dasharray="3,2.2" stroke-linejoin="miter" stroke-linecap="butt" />
<line x1="458.50" y1="116.20" x2="458.50" y2="118.40" stroke="#213f80" stroke-width="0.8" />
<line x1="462.50" y1="116.20" x2="462.50" y2="118.40" stroke="#213f80" stroke-width="0.8" />
<line x1="466.50" y1="116.20" x2="466.50" y2="118.40" stroke="#213f80" stroke-width="0.8" />
<line x1="469.50" y1="116.20" x2="469.50" y2="118.40" stroke="#213f80" stroke-width="0.8" />
<line x1="472.50" y1="116.20" x2="472.50" y2="118.40" stroke="#213f80" stroke-width="0.8" />
<line x1="475.50" y1="116.20" x2="475.50" y2="118.40" stroke="#213f80" stroke-width="0.8" />
<line x1="478.50" y1="116.20" x2="478.50" y2="118.40" stroke="#213f80" stroke-width="0.8" />
<line x1="481.50" y1="116.20" x2="481.50" y2="118.40" stroke="#213f80" stroke-width="0.8" />
<line x1="485.50" y1="116.20" x2="485.50" y2="118.40" stroke="#213f80" stroke-width="0.8" />
<line x1="489.50" y1="116.20" x2="489.50" y2="118.40" stroke="#213f80" stroke-width="0.8" />
<line x1="492.50" y1="116.20" x2="492.50" y2="118.40" stroke="#213f80" stroke-width="0.8" />
<polyline points="394.50,82.50 395.50,82.50 395.50,85.50 397.50,85.50 397.50,88.50 399.50,88.50 399.50,93.50 401.50,93.50 401.50,97.50 406.50,97.50 406.50,101.50 408.50,101.50 408.50,106.50 412.50,106.50 412.50,109.50 414.50,109.50 414.50,114.50 416.50,114.50 416.50,119.50 420.50,119.50 420.50,123.50 437.50,123.50 437.50,128.50 455.50,128.50 455.50,139.50 487.50,139.50" fill="none" stroke="#5aa82e" stroke-width="1.35" stroke-dasharray="3,2.2" stroke-linejoin="miter" stroke-linecap="butt" />
<line x1="424.50" y1="121.00" x2="424.50" y2="123.20" stroke="#5aa82e" stroke-width="0.8" />
<line x1="429.50" y1="121.00" x2="429.50" y2="123.20" stroke="#5aa82e" stroke-width="0.8" />
<line x1="433.50" y1="121.00" x2="433.50" y2="123.20" stroke="#5aa82e" stroke-width="0.8" />
<line x1="441.50" y1="126.10" x2="441.50" y2="128.30" stroke="#5aa82e" stroke-width="0.8" />
<line x1="444.50" y1="126.10" x2="444.50" y2="128.30" stroke="#5aa82e" stroke-width="0.8" />
<line x1="447.50" y1="126.10" x2="447.50" y2="128.30" stroke="#5aa82e" stroke-width="0.8" />
<line x1="458.50" y1="137.40" x2="458.50" y2="139.60" stroke="#5aa82e" stroke-width="0.8" />
<line x1="462.50" y1="137.40" x2="462.50" y2="139.60" stroke="#5aa82e" stroke-width="0.8" />
<line x1="468.50" y1="137.40" x2="468.50" y2="139.60" stroke="#5aa82e" stroke-width="0.8" />
<line x1="474.50" y1="137.40" x2="474.50" y2="139.60" stroke="#5aa82e" stroke-width="0.8" />
<line x1="480.50" y1="137.40" x2="480.50" y2="139.60" stroke="#5aa82e" stroke-width="0.8" />
<line x1="486.50" y1="137.40" x2="486.50" y2="139.60" stroke="#5aa82e" stroke-width="0.8" />
<polyline points="497.50,103.50 500.50,103.50 500.50,139.50 497.50,139.50" fill="none" stroke="#222" stroke-width="1.0" stroke-linejoin="miter" stroke-linecap="butt" />
<text x="504.80" y="124.73" font-size="6" text-anchor="middle" fill="#222" stroke="#222" stroke-width="0.26" >*</text>
<text x="403.00" y="171.65" font-size="6.9" text-anchor="start" fill="#222" textLength="28.40" lengthAdjust="spacingAndGlyphs" stroke="#222" stroke-width="0.26" >*P=0.008</text>
<text x="433.00" y="171.74" font-size="4.9" text-anchor="start" fill="#222" textLength="61.50" lengthAdjust="spacingAndGlyphs" stroke="#222" stroke-width="0.26" >(highest vs. lowest miR-150)</text>
<text x="404.60" y="180.25" font-size="6.9" text-anchor="start" fill="#222" textLength="15.40" lengthAdjust="spacingAndGlyphs" stroke="#222" stroke-width="0.26" >n=85</text>
<text x="7.70" y="267.40" font-size="11" text-anchor="start" fill="#111" stroke="#111" stroke-width="0.26" >E</text>
<polyline points="45.50,300.50 57.50,300.50" fill="none" stroke="#b80a35" stroke-width="1.3" stroke-linejoin="miter" stroke-linecap="butt" />
<line x1="51.50" y1="298.50" x2="51.50" y2="300.90" stroke="#b80a35" stroke-width="0.9" />
<text x="61.20" y="303.54" font-size="7.45" text-anchor="start" fill="#222" textLength="83.60" lengthAdjust="spacingAndGlyphs" stroke="#222" stroke-width="0.26" >quartile4 miR-150 (highest)</text>
<polyline points="45.50,312.50 57.50,312.50" fill="none" stroke="#2d5596" stroke-width="1.3" stroke-linejoin="miter" stroke-linecap="butt" />
<line x1="51.50" y1="310.10" x2="51.50" y2="312.50" stroke="#2d5596" stroke-width="0.9" />
<text x="61.20" y="315.14" font-size="7.45" text-anchor="start" fill="#222" textLength="54.80" lengthAdjust="spacingAndGlyphs" stroke="#222" stroke-width="0.26" >quartile3 miR-150</text>
<polyline points="45.50,324.50 48.50,324.50" fill="none" stroke="#5aa82e" stroke-width="1.3" stroke-linejoin="miter" stroke-linecap="butt" />
<polyline points="50.50,322.50 50.50,324.50 54.50,324.50" fill="none" stroke="#5aa82e" stroke-width="1.1700000000000002" stroke-linejoin="miter" stroke-linecap="butt" />
<polyline points="55.50,324.50 57.50,324.50" fill="none" stroke="#5aa82e" stroke-width="1.3" stroke-linejoin="miter" stroke-linecap="butt" />
<text x="61.20" y="327.44" font-size="7.45" text-anchor="start" fill="#222" textLength="54.80" lengthAdjust="spacingAndGlyphs" stroke="#222" stroke-width="0.26" >quartile2 miR-150</text>
<polyline points="45.50,336.50 48.50,336.50" fill="none" stroke="#52246d" stroke-width="1.3" stroke-linejoin="miter" stroke-linecap="butt" />
<polyline points="50.50,333.50 50.50,336.50 54.50,336.50" fill="none" stroke="#52246d" stroke-width="1.1700000000000002" stroke-linejoin="miter" stroke-linecap="butt" />
<text x="61.20" y="338.94" font-size="7.45" text-anchor="start" fill="#222" textLength="81.00" lengthAdjust="spacingAndGlyphs" stroke="#222" stroke-width="0.26" >quartile1 miR-150 (lowest)</text>
<line x1="42.50" y1="341.50" x2="42.50" y2="454.50" stroke="#1a1a1a" stroke-width="1.1" />
<line x1="39.80" y1="344.50" x2="42.80" y2="344.50" stroke="#1a1a1a" stroke-width="0.9" />
<text x="37.50" y="347.31" font-size="7.35" text-anchor="end" fill="#111" textLength="11.68" lengthAdjust="spacingAndGlyphs" stroke="#111" stroke-width="0.26" >100</text>
<line x1="39.80" y1="366.50" x2="42.80" y2="366.50" stroke="#1a1a1a" stroke-width="0.9" />
<text x="37.50" y="369.27" font-size="7.35" text-anchor="end" fill="#111" textLength="7.78" lengthAdjust="spacingAndGlyphs" stroke="#111" stroke-width="0.26" >80</text>
<line x1="39.80" y1="388.50" x2="42.80" y2="388.50" stroke="#1a1a1a" stroke-width="0.9" />
<text x="37.50" y="391.23" font-size="7.35" text-anchor="end" fill="#111" textLength="7.78" lengthAdjust="spacingAndGlyphs" stroke="#111" stroke-width="0.26" >60</text>
<line x1="39.80" y1="410.50" x2="42.80" y2="410.50" stroke="#1a1a1a" stroke-width="0.9" />
<text x="37.50" y="413.19" font-size="7.35" text-anchor="end" fill="#111" textLength="7.78" lengthAdjust="spacingAndGlyphs" stroke="#111" stroke-width="0.26" >40</text>
<line x1="39.80" y1="432.50" x2="42.80" y2="432.50" stroke="#1a1a1a" stroke-width="0.9" />
<text x="37.50" y="435.15" font-size="7.35" text-anchor="end" fill="#111" textLength="7.78" lengthAdjust="spacingAndGlyphs" stroke="#111" stroke-width="0.26" >20</text>
<line x1="39.80" y1="454.50" x2="42.80" y2="454.50" stroke="#1a1a1a" stroke-width="0.9" />
<text x="37.50" y="457.11" font-size="7.35" text-anchor="end" fill="#111" textLength="3.89" lengthAdjust="spacingAndGlyphs" stroke="#111" stroke-width="0.26" >0</text>
<line x1="42.30" y1="454.50" x2="154.30" y2="454.50" stroke="#1a1a1a" stroke-width="1.1" />
<line x1="42.50" y1="454.50" x2="42.50" y2="456.80" stroke="#1a1a1a" stroke-width="0.9" />
<text x="42.80" y="467.01" font-size="7.35" text-anchor="middle" fill="#111" textLength="3.89" lengthAdjust="spacingAndGlyphs" stroke="#111" stroke-width="0.26" >0</text>
<line x1="79.50" y1="454.50" x2="79.50" y2="456.80" stroke="#1a1a1a" stroke-width="0.9" />
<text x="79.30" y="467.01" font-size="7.35" text-anchor="middle" fill="#111" textLength="15.57" lengthAdjust="spacingAndGlyphs" stroke="#111" stroke-width="0.26" >2000</text>
<line x1="115.50" y1="454.50" x2="115.50" y2="456.80" stroke="#1a1a1a" stroke-width="0.9" />
<text x="115.80" y="467.01" font-size="7.35" text-anchor="middle" fill="#111" textLength="15.57" lengthAdjust="spacingAndGlyphs" stroke="#111" stroke-width="0.26" >4000</text>
<line x1="152.50" y1="454.50" x2="152.50" y2="456.80" stroke="#1a1a1a" stroke-width="0.9" />
<text x="152.50" y="467.01" font-size="7.35" text-anchor="middle" fill="#111" textLength="15.57" lengthAdjust="spacingAndGlyphs" stroke="#111" stroke-width="0.26" >6000</text>
<text x="98.70" y="480.00" font-size="8.4" text-anchor="middle" fill="#1a1a1a" stroke="#1a1a1a" stroke-width="0.26" >Days</text>
<text x="17.90" y="397.80" font-size="9" text-anchor="middle" fill="#1a1a1a" textLength="75.60" lengthAdjust="spacingAndGlyphs" stroke="#1a1a1a" stroke-width="0.26" transform="rotate(-90 17.90 397.80)" >Overall survival (%)</text>
<polyline points="42.50,344.50 54.50,344.50 54.50,350.50 65.50,350.50 65.50,355.50 76.50,355.50 76.50,359.50 77.50,359.50 77.50,370.50 85.50,370.50 85.50,382.50 101.50,382.50 101.50,391.50 140.50,391.50" fill="none" stroke="#2d5596" stroke-width="1.35" stroke-linejoin="miter" stroke-linecap="butt" />
<line x1="81.50" y1="368.50" x2="81.50" y2="370.70" stroke="#2d5596" stroke-width="0.8" />
<line x1="83.50" y1="368.50" x2="83.50" y2="370.70" stroke="#2d5596" stroke-width="0.8" />
<line x1="88.50" y1="379.80" x2="88.50" y2="382.00" stroke="#2d5596" stroke-width="0.8" />
<line x1="90.50" y1="379.80" x2="90.50" y2="382.00" stroke="#2d5596" stroke-width="0.8" />
<line x1="113.50" y1="389.00" x2="113.50" y2="391.20" stroke="#2d5596" stroke-width="0.8" />
<line x1="116.50" y1="389.00" x2="116.50" y2="391.20" stroke="#2d5596" stroke-width="0.8" />
<line x1="120.50" y1="389.00" x2="120.50" y2="391.20" stroke="#2d5596" stroke-width="0.8" />
<line x1="128.50" y1="389.00" x2="128.50" y2="391.20" stroke="#2d5596" stroke-width="0.8" />
<line x1="134.50" y1="389.00" x2="134.50" y2="391.20" stroke="#2d5596" stroke-width="0.8" />
<line x1="140.50" y1="389.00" x2="140.50" y2="391.20" stroke="#2d5596" stroke-width="0.8" />
<polyline points="42.50,344.50 45.50,344.50 45.50,347.50 50.50,347.50 50.50,359.50 57.50,359.50 57.50,361.50 61.50,361.50 61.50,367.50 63.50,367.50 63.50,372.50 133.50,372.50" fill="none" stroke="#5aa82e" stroke-width="1.35" stroke-dasharray="3,2.2" stroke-linejoin="miter" stroke-linecap="butt" />
<line x1="80.50" y1="370.70" x2="80.50" y2="372.90" stroke="#5aa82e" stroke-width="0.8" />
<line x1="83.50" y1="370.70" x2="83.50" y2="372.90" stroke="#5aa82e" stroke-width="0.8" />
<line x1="88.50" y1="370.70" x2="88.50" y2="372.90" stroke="#5aa82e" stroke-width="0.8" />
<line x1="90.50" y1="370.70" x2="90.50" y2="372.90" stroke="#5aa82e" stroke-width="0.8" />
<line x1="95.50" y1="370.70" x2="95.50" y2="372.90" stroke="#5aa82e" stroke-width="0.8" />
<line x1="100.50" y1="370.70" x2="100.50" y2="372.90" stroke="#5aa82e" stroke-width="0.8" />
<line x1="110.50" y1="370.70" x2="110.50" y2="372.90" stroke="#5aa82e" stroke-width="0.8" />
<line x1="122.50" y1="370.70" x2="122.50" y2="372.90" stroke="#5aa82e" stroke-width="0.8" />
<line x1="126.50" y1="370.70" x2="126.50" y2="372.90" stroke="#5aa82e" stroke-width="0.8" />
<line x1="133.50" y1="370.70" x2="133.50" y2="372.90" stroke="#5aa82e" stroke-width="0.8" />
<polyline points="42.50,344.50 44.50,344.50 44.50,348.50 45.50,348.50 45.50,355.50 48.50,355.50 48.50,359.50 55.50,359.50 55.50,361.50 57.50,361.50 57.50,364.50 58.50,364.50 58.50,368.50 61.50,368.50 61.50,371.50 63.50,371.50 63.50,379.50 69.50,379.50 69.50,384.50 85.50,384.50 85.50,391.50 103.50,391.50 103.50,401.50 134.50,401.50" fill="none" stroke="#52246d" stroke-width="1.35" stroke-dasharray="3,2.2" stroke-linejoin="miter" stroke-linecap="butt" />
<line x1="93.50" y1="388.80" x2="93.50" y2="391.00" stroke="#52246d" stroke-width="0.8" />
<line x1="96.50" y1="388.80" x2="96.50" y2="391.00" stroke="#52246d" stroke-width="0.8" />
<line x1="99.50" y1="388.80" x2="99.50" y2="391.00" stroke="#52246d" stroke-width="0.8" />
<line x1="108.50" y1="399.40" x2="108.50" y2="401.60" stroke="#52246d" stroke-width="0.8" />
<line x1="113.50" y1="399.40" x2="113.50" y2="401.60" stroke="#52246d" stroke-width="0.8" />
<line x1="118.50" y1="399.40" x2="118.50" y2="401.60" stroke="#52246d" stroke-width="0.8" />
<line x1="122.50" y1="399.40" x2="122.50" y2="401.60" stroke="#52246d" stroke-width="0.8" />
<line x1="134.50" y1="399.40" x2="134.50" y2="401.60" stroke="#52246d" stroke-width="0.8" />
<polyline points="42.50,344.50 67.50,344.50 67.50,350.50 94.50,350.50 94.50,357.50 143.50,357.50" fill="none" stroke="#b80a35" stroke-width="1.35" stroke-linejoin="miter" stroke-linecap="butt" />
<line x1="55.50" y1="342.50" x2="55.50" y2="344.70" stroke="#b80a35" stroke-width="0.8" />
<line x1="73.50" y1="347.80" x2="73.50" y2="350.00" stroke="#b80a35" stroke-width="0.8" />
<line x1="79.50" y1="347.80" x2="79.50" y2="350.00" stroke="#b80a35" stroke-width="0.8" />
<line x1="91.50" y1="347.80" x2="91.50" y2="350.00" stroke="#b80a35" stroke-width="0.8" />
<line x1="96.50" y1="354.80" x2="96.50" y2="357.00" stroke="#b80a35" stroke-width="0.8" />
<line x1="98.50" y1="354.80" x2="98.50" y2="357.00" stroke="#b80a35" stroke-width="0.8" />
<line x1="100.50" y1="354.80" x2="100.50" y2="357.00" stroke="#b80a35" stroke-width="0.8" />
<line x1="103.50" y1="354.80" x2="103.50" y2="357.00" stroke="#b80a35" stroke-width="0.8" />
<line x1="106.50" y1="354.80" x2="106.50" y2="357.00" stroke="#b80a35" stroke-width="0.8" />
<line x1="108.50" y1="354.80" x2="108.50" y2="357.00" stroke="#b80a35" stroke-width="0.8" />
<line x1="110.50" y1="354.80" x2="110.50" y2="357.00" stroke="#b80a35" stroke-width="0.8" />
<line x1="112.50" y1="354.80" x2="112.50" y2="357.00" stroke="#b80a35" stroke-width="0.8" />
<line x1="115.50" y1="354.80" x2="115.50" y2="357.00" stroke="#b80a35" stroke-width="0.8" />
<line x1="118.50" y1="354.80" x2="118.50" y2="357.00" stroke="#b80a35" stroke-width="0.8" />
<line x1="123.50" y1="354.80" x2="123.50" y2="357.00" stroke="#b80a35" stroke-width="0.8" />
<line x1="131.50" y1="354.80" x2="131.50" y2="357.00" stroke="#b80a35" stroke-width="0.8" />
<line x1="143.50" y1="354.80" x2="143.50" y2="357.00" stroke="#b80a35" stroke-width="0.8" />
<polyline points="147.50,357.50 150.50,357.50 150.50,401.50 147.50,401.50" fill="none" stroke="#222" stroke-width="1.0" stroke-linejoin="miter" stroke-linecap="butt" />
<text x="154.80" y="382.73" font-size="6" text-anchor="middle" fill="#222" stroke="#222" stroke-width="0.26" >*</text>
<text x="47.40" y="437.35" font-size="6.9" text-anchor="start" fill="#222" textLength="28.40" lengthAdjust="spacingAndGlyphs" stroke="#222" stroke-width="0.26" >*P=0.006</text>
<text x="77.30" y="437.34" font-size="4.9" text-anchor="start" fill="#222" textLength="61.70" lengthAdjust="spacingAndGlyphs" stroke="#222" stroke-width="0.26" >(highest vs. lowest miR-150)</text>
<text x="49.00" y="446.15" font-size="6.9" text-anchor="start" fill="#222" textLength="15.70" lengthAdjust="spacingAndGlyphs" stroke="#222" stroke-width="0.26" >n=85</text>
<text x="176.70" y="267.40" font-size="11" text-anchor="start" fill="#111" stroke="#111" stroke-width="0.26" >F</text>
<line x1="218.50" y1="284.80" x2="218.50" y2="312.10" stroke="#1a1a1a" stroke-width="1.0" />
<line x1="215.60" y1="312.50" x2="221.40" y2="312.50" stroke="#1a1a1a" stroke-width="1.0" />
<line x1="215.60" y1="287.50" x2="218.50" y2="287.50" stroke="#1a1a1a" stroke-width="0.9" />
<text x="212.70" y="289.91" font-size="7.35" text-anchor="end" fill="#111" textLength="19.46" lengthAdjust="spacingAndGlyphs" stroke="#111" stroke-width="0.26" >19000</text>
<line x1="215.60" y1="300.50" x2="218.50" y2="300.50" stroke="#1a1a1a" stroke-width="0.9" />
<text x="212.70" y="302.81" font-size="7.35" text-anchor="end" fill="#111" textLength="19.46" lengthAdjust="spacingAndGlyphs" stroke="#111" stroke-width="0.26" >11000</text>
<text x="212.70" y="314.71" font-size="7.35" text-anchor="end" fill="#111" textLength="15.57" lengthAdjust="spacingAndGlyphs" stroke="#111" stroke-width="0.26" >3000</text>
<line x1="218.50" y1="321.30" x2="218.50" y2="454.20" stroke="#1a1a1a" stroke-width="1.0" />
<line x1="215.60" y1="321.50" x2="221.40" y2="321.50" stroke="#1a1a1a" stroke-width="1.0" />
<text x="212.70" y="323.91" font-size="7.35" text-anchor="end" fill="#111" textLength="15.57" lengthAdjust="spacingAndGlyphs" stroke="#111" stroke-width="0.26" >3000</text>
<line x1="215.70" y1="343.50" x2="218.50" y2="343.50" stroke="#1a1a1a" stroke-width="0.9" />
<text x="212.70" y="346.51" font-size="7.35" text-anchor="end" fill="#111" textLength="15.57" lengthAdjust="spacingAndGlyphs" stroke="#111" stroke-width="0.26" >2500</text>
<line x1="215.70" y1="366.50" x2="218.50" y2="366.50" stroke="#1a1a1a" stroke-width="0.9" />
<text x="212.70" y="368.61" font-size="7.35" text-anchor="end" fill="#111" textLength="15.57" lengthAdjust="spacingAndGlyphs" stroke="#111" stroke-width="0.26" >2000</text>
<line x1="215.70" y1="388.50" x2="218.50" y2="388.50" stroke="#1a1a1a" stroke-width="0.9" />
<text x="212.70" y="390.61" font-size="7.35" text-anchor="end" fill="#111" textLength="15.57" lengthAdjust="spacingAndGlyphs" stroke="#111" stroke-width="0.26" >1500</text>
<line x1="215.70" y1="410.50" x2="218.50" y2="410.50" stroke="#1a1a1a" stroke-width="0.9" />
<text x="212.70" y="412.61" font-size="7.35" text-anchor="end" fill="#111" textLength="15.57" lengthAdjust="spacingAndGlyphs" stroke="#111" stroke-width="0.26" >1000</text>
<line x1="215.70" y1="432.50" x2="218.50" y2="432.50" stroke="#1a1a1a" stroke-width="0.9" />
<text x="212.70" y="434.61" font-size="7.35" text-anchor="end" fill="#111" textLength="11.68" lengthAdjust="spacingAndGlyphs" stroke="#111" stroke-width="0.26" >500</text>
<line x1="215.70" y1="454.50" x2="218.50" y2="454.50" stroke="#1a1a1a" stroke-width="0.9" />
<text x="212.70" y="456.61" font-size="7.35" text-anchor="end" fill="#111" textLength="3.89" lengthAdjust="spacingAndGlyphs" stroke="#111" stroke-width="0.26" >0</text>
<line x1="218.00" y1="454.50" x2="287.00" y2="454.50" stroke="#1a1a1a" stroke-width="1.0" />
<line x1="229.50" y1="454.00" x2="229.50" y2="456.50" stroke="#1a1a1a" stroke-width="0.9" />
<line x1="252.50" y1="454.00" x2="252.50" y2="456.50" stroke="#1a1a1a" stroke-width="0.9" />
<line x1="275.50" y1="454.00" x2="275.50" y2="456.50" stroke="#1a1a1a" stroke-width="0.9" />
<text x="232.50" y="463.60" font-size="7.35" text-anchor="end" fill="#1a1a1a" stroke="#1a1a1a" stroke-width="0.26" transform="rotate(-45 232.50 463.60)" >death &lt; 3yrs (n=11)</text>
<text x="255.50" y="463.60" font-size="7.35" text-anchor="end" fill="#1a1a1a" stroke="#1a1a1a" stroke-width="0.26" transform="rotate(-45 255.50 463.60)" >death &gt; 3yrs (n=14)</text>
<text x="278.50" y="463.60" font-size="7.35" text-anchor="end" fill="#1a1a1a" stroke="#1a1a1a" stroke-width="0.26" transform="rotate(-45 278.50 463.60)" >alive &gt; 3yrs (n=59)</text>
<polyline points="252.50,267.50 252.50,265.50 275.50,265.50 275.50,267.50" fill="none" stroke="#1a1a1a" stroke-width="1.1" stroke-linejoin="miter" stroke-linecap="butt" />
<text x="264.00" y="262.91" font-size="6.8" text-anchor="middle" fill="#1a1a1a" textLength="8.40" lengthAdjust="spacingAndGlyphs" stroke="#1a1a1a" stroke-width="0.26" >NS</text>
<polyline points="228.50,281.50 228.50,279.50 276.50,279.50 276.50,281.50" fill="none" stroke="#1a1a1a" stroke-width="1.1" stroke-linejoin="miter" stroke-linecap="butt" />
<text x="252.50" y="277.21" font-size="6.8" text-anchor="middle" fill="#1a1a1a" textLength="24.75" lengthAdjust="spacingAndGlyphs" stroke="#1a1a1a" stroke-width="0.26" >P=0.003</text>
<polyline points="228.50,295.50 228.50,293.50 252.50,293.50 252.50,295.50" fill="none" stroke="#1a1a1a" stroke-width="1.1" stroke-linejoin="miter" stroke-linecap="butt" />
<text x="240.40" y="290.81" font-size="6.8" text-anchor="middle" fill="#1a1a1a" textLength="20.60" lengthAdjust="spacingAndGlyphs" stroke="#1a1a1a" stroke-width="0.26" >P=0.03</text>
<circle cx="232.70" cy="380.80" r="2.0" fill="#cc0535" stroke="#000" stroke-width="1.0"/>
<circle cx="229.40" cy="385.20" r="2.0" fill="#cc0535" stroke="#000" stroke-width="1.0"/>
<circle cx="229.40" cy="400.60" r="2.0" fill="#cc0535" stroke="#000" stroke-width="1.0"/>
<circle cx="227.50" cy="403.80" r="2.0" fill="#cc0535" stroke="#000" stroke-width="1.0"/>
<circle cx="226.20" cy="407.70" r="2.0" fill="#cc0535" stroke="#000" stroke-width="1.0"/>
<circle cx="230.40" cy="407.70" r="2.0" fill="#cc0535" stroke="#000" stroke-width="1.0"/>
<circle cx="232.70" cy="410.80" r="2.0" fill="#cc0535" stroke="#000" stroke-width="1.0"/>
<circle cx="229.40" cy="410.80" r="2.0" fill="#cc0535" stroke="#000" stroke-width="1.0"/>
<circle cx="226.20" cy="417.90" r="2.0" fill="#cc0535" stroke="#000" stroke-width="1.0"/>
<circle cx="229.40" cy="423.70" r="2.0" fill="#cc0535" stroke="#000" stroke-width="1.0"/>
<circle cx="229.50" cy="450.50" r="2.0" fill="#cc0535" stroke="#000" stroke-width="1.0"/>
<circle cx="251.90" cy="310.80" r="2.0" fill="#2d549c" stroke="#000" stroke-width="1.0"/>
<circle cx="255.80" cy="350.60" r="2.0" fill="#2d549c" stroke="#000" stroke-width="1.0"/>
<circle cx="251.90" cy="355.00" r="2.0" fill="#2d549c" stroke="#000" stroke-width="1.0"/>
<circle cx="248.70" cy="359.60" r="2.0" fill="#2d549c" stroke="#000" stroke-width="1.0"/>
<circle cx="252.50" cy="365.00" r="2.0" fill="#2d549c" stroke="#000" stroke-width="1.0"/>
<circle cx="255.80" cy="371.70" r="2.0" fill="#2d549c" stroke="#000" stroke-width="1.0"/>
<circle cx="251.90" cy="372.70" r="2.0" fill="#2d549c" stroke="#000" stroke-width="1.0"/>
<circle cx="248.70" cy="377.50" r="2.0" fill="#2d549c" stroke="#000" stroke-width="1.0"/>
<circle cx="252.50" cy="381.30" r="2.0" fill="#2d549c" stroke="#000" stroke-width="1.0"/>
<circle cx="252.50" cy="405.80" r="2.0" fill="#2d549c" stroke="#000" stroke-width="1.0"/>
<circle cx="255.80" cy="411.20" r="2.0" fill="#2d549c" stroke="#000" stroke-width="1.0"/>
<circle cx="248.70" cy="415.40" r="2.0" fill="#2d549c" stroke="#000" stroke-width="1.0"/>
<circle cx="252.50" cy="416.00" r="2.0" fill="#2d549c" stroke="#000" stroke-width="1.0"/>
<circle cx="252.50" cy="444.50" r="2.0" fill="#2d549c" stroke="#000" stroke-width="1.0"/>
<circle cx="275.60" cy="292.10" r="2.0" fill="#6cc640" stroke="#000" stroke-width="1.0"/>
<circle cx="275.60" cy="304.00" r="2.0" fill="#6cc640" stroke="#000" stroke-width="1.0"/>
<circle cx="275.60" cy="307.20" r="2.0" fill="#6cc640" stroke="#000" stroke-width="1.0"/>
<circle cx="272.30" cy="311.70" r="2.0" fill="#6cc640" stroke="#000" stroke-width="1.0"/>
<circle cx="275.60" cy="311.70" r="2.0" fill="#6cc640" stroke="#000" stroke-width="1.0"/>
<circle cx="278.80" cy="311.70" r="2.0" fill="#6cc640" stroke="#000" stroke-width="1.0"/>
<circle cx="272.30" cy="331.50" r="2.0" fill="#6cc640" stroke="#000" stroke-width="1.0"/>
<circle cx="275.60" cy="333.30" r="2.0" fill="#6cc640" stroke="#000" stroke-width="1.0"/>
<circle cx="278.80" cy="333.50" r="2.0" fill="#6cc640" stroke="#000" stroke-width="1.0"/>
<circle cx="272.30" cy="346.90" r="2.0" fill="#6cc640" stroke="#000" stroke-width="1.0"/>
<circle cx="278.80" cy="348.20" r="2.0" fill="#6cc640" stroke="#000" stroke-width="1.0"/>
<circle cx="272.30" cy="350.80" r="2.0" fill="#6cc640" stroke="#000" stroke-width="1.0"/>
<circle cx="275.60" cy="353.50" r="2.0" fill="#6cc640" stroke="#000" stroke-width="1.0"/>
<circle cx="272.30" cy="360.80" r="2.0" fill="#6cc640" stroke="#000" stroke-width="1.0"/>
<circle cx="277.50" cy="359.20" r="2.0" fill="#6cc640" stroke="#000" stroke-width="1.0"/>
<circle cx="278.80" cy="361.50" r="2.0" fill="#6cc640" stroke="#000" stroke-width="1.0"/>
<circle cx="274.60" cy="364.00" r="2.0" fill="#6cc640" stroke="#000" stroke-width="1.0"/>
<circle cx="272.30" cy="366.50" r="2.0" fill="#6cc640" stroke="#000" stroke-width="1.0"/>
<circle cx="278.80" cy="366.00" r="2.0" fill="#6cc640" stroke="#000" stroke-width="1.0"/>
<circle cx="272.30" cy="370.40" r="2.0" fill="#6cc640" stroke="#000" stroke-width="1.0"/>
<circle cx="275.60" cy="369.80" r="2.0" fill="#6cc640" stroke="#000" stroke-width="1.0"/>
<circle cx="278.80" cy="376.20" r="2.0" fill="#6cc640" stroke="#000" stroke-width="1.0"/>
<circle cx="275.60" cy="378.50" r="2.0" fill="#6cc640" stroke="#000" stroke-width="1.0"/>
<circle cx="273.70" cy="381.30" r="2.0" fill="#6cc640" stroke="#000" stroke-width="1.0"/>
<circle cx="275.60" cy="385.20" r="2.0" fill="#6cc640" stroke="#000" stroke-width="1.0"/>
<circle cx="278.80" cy="385.80" r="2.0" fill="#6cc640" stroke="#000" stroke-width="1.0"/>
<circle cx="272.30" cy="384.60" r="2.0" fill="#6cc640" stroke="#000" stroke-width="1.0"/>
<circle cx="272.30" cy="391.50" r="2.0" fill="#6cc640" stroke="#000" stroke-width="1.0"/>
<circle cx="275.60" cy="391.90" r="2.0" fill="#6cc640" stroke="#000" stroke-width="1.0"/>
<circle cx="278.80" cy="394.80" r="2.0" fill="#6cc640" stroke="#000" stroke-width="1.0"/>
<circle cx="275.60" cy="395.80" r="2.0" fill="#6cc640" stroke="#000" stroke-width="1.0"/>
<circle cx="278.80" cy="399.20" r="2.0" fill="#6cc640" stroke="#000" stroke-width="1.0"/>
<circle cx="272.30" cy="403.10" r="2.0" fill="#6cc640" stroke="#000" stroke-width="1.0"/>
<circle cx="275.60" cy="404.40" r="2.0" fill="#6cc640" stroke="#000" stroke-width="1.0"/>
<circle cx="272.30" cy="408.30" r="2.0" fill="#6cc640" stroke="#000" stroke-width="1.0"/>
<circle cx="275.60" cy="409.20" r="2.0" fill="#6cc640" stroke="#000" stroke-width="1.0"/>
<circle cx="278.80" cy="410.80" r="2.0" fill="#6cc640" stroke="#000" stroke-width="1.0"/>
<circle cx="274.60" cy="423.70" r="2.0" fill="#6cc640" stroke="#000" stroke-width="1.0"/>
<circle cx="272.30" cy="427.70" r="2.0" fill="#6cc640" stroke="#000" stroke-width="1.0"/>
<circle cx="278.80" cy="428.30" r="2.0" fill="#6cc640" stroke="#000" stroke-width="1.0"/>
<circle cx="275.50" cy="429.50" r="2.0" fill="#6cc640" stroke="#000" stroke-width="1.0"/>
<circle cx="278.80" cy="434.50" r="2.0" fill="#6cc640" stroke="#000" stroke-width="1.0"/>
<circle cx="275.50" cy="440.00" r="2.0" fill="#6cc640" stroke="#000" stroke-width="1.0"/>
<line x1="221.20" y1="408.50" x2="237.70" y2="408.50" stroke="#000" stroke-width="1.3" />
<line x1="244.20" y1="375.50" x2="260.80" y2="375.50" stroke="#000" stroke-width="1.3" />
<line x1="267.90" y1="372.50" x2="283.80" y2="372.50" stroke="#000" stroke-width="1.3" />
<text x="303.40" y="267.40" font-size="11" text-anchor="start" fill="#111" stroke="#111" stroke-width="0.26" >G</text>
<polyline points="332.50,313.50 345.50,313.50" fill="none" stroke="#c9802f" stroke-width="1.3" stroke-linejoin="miter" stroke-linecap="butt" />
<line x1="339.50" y1="310.80" x2="339.50" y2="313.20" stroke="#c9802f" stroke-width="0.9" />
<text x="348.40" y="315.84" font-size="7.45" text-anchor="start" fill="#222" textLength="75.20" lengthAdjust="spacingAndGlyphs" stroke="#222" stroke-width="0.26" >Low FOXP1 (≤30%; n=7)</text>
<polyline points="332.50,324.50 335.50,324.50" fill="none" stroke="#abbd80" stroke-width="1.3" stroke-linejoin="miter" stroke-linecap="butt" />
<polyline points="338.50,321.50 338.50,324.50 341.50,324.50" fill="none" stroke="#abbd80" stroke-width="1.1700000000000002" stroke-linejoin="miter" stroke-linecap="butt" />
<polyline points="344.50,324.50 345.50,324.50" fill="none" stroke="#abbd80" stroke-width="1.3" stroke-linejoin="miter" stroke-linecap="butt" />
<text x="348.40" y="327.24" font-size="7.45" text-anchor="start" fill="#222" textLength="85.60" lengthAdjust="spacingAndGlyphs" stroke="#222" stroke-width="0.26" >Inter FOXP1 (30-70%; n=14)</text>
<polyline points="332.50,336.50 335.50,336.50" fill="none" stroke="#62421f" stroke-width="1.3" stroke-linejoin="miter" stroke-linecap="butt" />
<polyline points="338.50,333.50 338.50,336.50 341.50,336.50" fill="none" stroke="#62421f" stroke-width="1.1700000000000002" stroke-linejoin="miter" stroke-linecap="butt" />
<text x="348.40" y="338.74" font-size="7.45" text-anchor="start" fill="#222" textLength="76.80" lengthAdjust="spacingAndGlyphs" stroke="#222" stroke-width="0.26" >High FOXP1 (≥70%; n=9)</text>
<text x="440.00" y="349.14" font-size="7.45" text-anchor="start" fill="#222" textLength="16.20" lengthAdjust="spacingAndGlyphs" stroke="#222" stroke-width="0.26" >n=30</text>
<line x1="335.50" y1="342.00" x2="335.50" y2="454.50" stroke="#1a1a1a" stroke-width="1.1" />
<line x1="332.40" y1="345.50" x2="335.40" y2="345.50" stroke="#1a1a1a" stroke-width="0.9" />
<text x="330.00" y="347.81" font-size="7.35" text-anchor="end" fill="#111" textLength="11.68" lengthAdjust="spacingAndGlyphs" stroke="#111" stroke-width="0.26" >100</text>
<line x1="332.40" y1="367.50" x2="335.40" y2="367.50" stroke="#1a1a1a" stroke-width="0.9" />
<text x="330.00" y="369.67" font-size="7.35" text-anchor="end" fill="#111" textLength="7.78" lengthAdjust="spacingAndGlyphs" stroke="#111" stroke-width="0.26" >80</text>
<line x1="332.40" y1="388.50" x2="335.40" y2="388.50" stroke="#1a1a1a" stroke-width="0.9" />
<text x="330.00" y="391.53" font-size="7.35" text-anchor="end" fill="#111" textLength="7.78" lengthAdjust="spacingAndGlyphs" stroke="#111" stroke-width="0.26" >60</text>
<line x1="332.40" y1="410.50" x2="335.40" y2="410.50" stroke="#1a1a1a" stroke-width="0.9" />
<text x="330.00" y="413.39" font-size="7.35" text-anchor="end" fill="#111" textLength="7.78" lengthAdjust="spacingAndGlyphs" stroke="#111" stroke-width="0.26" >40</text>
<line x1="332.40" y1="432.50" x2="335.40" y2="432.50" stroke="#1a1a1a" stroke-width="0.9" />
<text x="330.00" y="435.25" font-size="7.35" text-anchor="end" fill="#111" textLength="7.78" lengthAdjust="spacingAndGlyphs" stroke="#111" stroke-width="0.26" >20</text>
<line x1="332.40" y1="454.50" x2="335.40" y2="454.50" stroke="#1a1a1a" stroke-width="0.9" />
<text x="330.00" y="457.11" font-size="7.35" text-anchor="end" fill="#111" textLength="3.89" lengthAdjust="spacingAndGlyphs" stroke="#111" stroke-width="0.26" >0</text>
<line x1="334.90" y1="454.50" x2="446.50" y2="454.50" stroke="#1a1a1a" stroke-width="1.1" />
<line x1="335.50" y1="454.50" x2="335.50" y2="456.80" stroke="#1a1a1a" stroke-width="0.9" />
<text x="335.40" y="467.01" font-size="7.35" text-anchor="middle" fill="#111" textLength="3.89" lengthAdjust="spacingAndGlyphs" stroke="#111" stroke-width="0.26" >0</text>
<line x1="371.50" y1="454.50" x2="371.50" y2="456.80" stroke="#1a1a1a" stroke-width="0.9" />
<text x="371.90" y="467.01" font-size="7.35" text-anchor="middle" fill="#111" textLength="15.57" lengthAdjust="spacingAndGlyphs" stroke="#111" stroke-width="0.26" >2000</text>
<line x1="408.50" y1="454.50" x2="408.50" y2="456.80" stroke="#1a1a1a" stroke-width="0.9" />
<text x="408.50" y="467.01" font-size="7.35" text-anchor="middle" fill="#111" textLength="15.57" lengthAdjust="spacingAndGlyphs" stroke="#111" stroke-width="0.26" >4000</text>
<line x1="444.50" y1="454.50" x2="444.50" y2="456.80" stroke="#1a1a1a" stroke-width="0.9" />
<text x="444.80" y="467.01" font-size="7.35" text-anchor="middle" fill="#111" textLength="15.57" lengthAdjust="spacingAndGlyphs" stroke="#111" stroke-width="0.26" >6000</text>
<text x="391.50" y="480.00" font-size="8.4" text-anchor="middle" fill="#1a1a1a" stroke="#1a1a1a" stroke-width="0.26" >Days</text>
<text x="310.90" y="397.80" font-size="9" text-anchor="middle" fill="#1a1a1a" textLength="75.60" lengthAdjust="spacingAndGlyphs" stroke="#1a1a1a" stroke-width="0.26" transform="rotate(-90 310.90 397.80)" >Overall survival (%)</text>
<polyline points="335.50,345.50 356.50,345.50 356.50,360.50 421.50,360.50" fill="none" stroke="#c9802f" stroke-width="1.35" stroke-linejoin="miter" stroke-linecap="butt" />
<line x1="389.50" y1="358.40" x2="389.50" y2="360.60" stroke="#c9802f" stroke-width="0.8" />
<line x1="412.50" y1="358.40" x2="412.50" y2="360.60" stroke="#c9802f" stroke-width="0.8" />
<line x1="416.50" y1="358.40" x2="416.50" y2="360.60" stroke="#c9802f" stroke-width="0.8" />
<line x1="421.50" y1="358.40" x2="421.50" y2="360.60" stroke="#c9802f" stroke-width="0.8" />
<polyline points="335.50,345.50 338.50,345.50 338.50,349.50 340.50,349.50 340.50,352.50 342.50,352.50 342.50,356.50 346.50,356.50 346.50,360.50 349.50,360.50 349.50,368.50 351.50,368.50 351.50,372.50 353.50,372.50 353.50,376.50 357.50,376.50 357.50,380.50 358.50,380.50 358.50,384.50 371.50,384.50 371.50,391.50 377.50,391.50 377.50,399.50 390.50,399.50 390.50,407.50 394.50,407.50 394.50,416.50 424.50,416.50" fill="none" stroke="#abbd80" stroke-width="1.35" stroke-dasharray="3,2.2" stroke-linejoin="miter" stroke-linecap="butt" />
<line x1="398.50" y1="414.50" x2="398.50" y2="416.70" stroke="#abbd80" stroke-width="0.8" />
<line x1="403.50" y1="414.50" x2="403.50" y2="416.70" stroke="#abbd80" stroke-width="0.8" />
<line x1="408.50" y1="414.50" x2="408.50" y2="416.70" stroke="#abbd80" stroke-width="0.8" />
<line x1="414.50" y1="414.50" x2="414.50" y2="416.70" stroke="#abbd80" stroke-width="0.8" />
<line x1="419.50" y1="414.50" x2="419.50" y2="416.70" stroke="#abbd80" stroke-width="0.8" />
<line x1="423.50" y1="414.50" x2="423.50" y2="416.70" stroke="#abbd80" stroke-width="0.8" />
<polyline points="335.50,345.50 338.50,345.50 338.50,357.50 348.50,357.50 348.50,368.50 350.50,368.50 350.50,382.50 352.50,382.50 352.50,393.50 353.50,393.50 353.50,405.50 366.50,405.50 366.50,418.50 420.50,418.50" fill="none" stroke="#62421f" stroke-width="1.35" stroke-dasharray="3,2.2" stroke-linejoin="miter" stroke-linecap="butt" />
<polyline points="430.50,359.50 434.50,359.50 434.50,417.50 430.50,417.50" fill="none" stroke="#222" stroke-width="1.0" stroke-linejoin="miter" stroke-linecap="butt" />
<text x="438.50" y="389.93" font-size="6" text-anchor="middle" fill="#222" stroke="#222" stroke-width="0.26" >*</text>
<text x="341.50" y="435.75" font-size="6.9" text-anchor="start" fill="#222" textLength="23.90" lengthAdjust="spacingAndGlyphs" stroke="#222" stroke-width="0.26" >*P=0.03</text>
<text x="366.40" y="435.74" font-size="4.9" text-anchor="start" fill="#222" textLength="48.70" lengthAdjust="spacingAndGlyphs" stroke="#222" stroke-width="0.26" >(Low vs. High FOXP1)</text>
<text x="342.50" y="444.55" font-size="6.9" text-anchor="start" fill="#222" textLength="22.20" lengthAdjust="spacingAndGlyphs" stroke="#222" stroke-width="0.26" >P=0.05</text>
<text x="366.40" y="444.54" font-size="4.9" text-anchor="start" fill="#222" textLength="46.40" lengthAdjust="spacingAndGlyphs" stroke="#222" stroke-width="0.26" >(Low vs. Inter FOXP1)</text>
<rect x="0.5" y="0.5" width="519" height="521" fill="none" stroke="#000" stroke-width="1.2"/>
<line x1="0.9" y1="0" x2="0.9" y2="522" stroke="#3a3a3a" stroke-width="1.8"/>
</svg>
</body></html>
